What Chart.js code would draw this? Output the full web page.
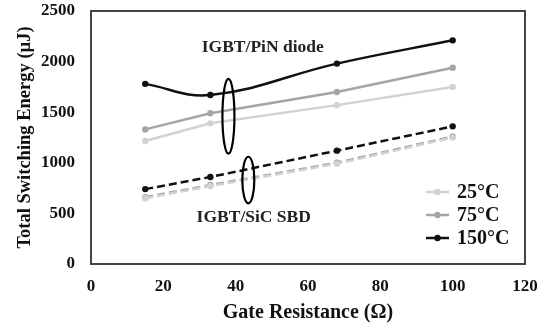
<!DOCTYPE html>
<html>
<head>
<meta charset="utf-8">
<script src="https://cdn.jsdelivr.net/npm/chart.js@4"></script>
<style>
  html, body { margin: 0; padding: 0; background: #fff; }
  #wrap { width: 545px; height: 324px; }
</style>
</head>
<body>
<div id="wrap"><canvas id="chart"></canvas></div>
<script>
const gateResistance = [15, 33, 68, 100];

// IGBT with PiN diode
const pin25 = [1215, 1390, 1570, 1750];
const pin75 = [1330, 1490, 1700, 1940];
const pin150 = [1780, 1670, 1980, 2210];

// IGBT with SiC SBD
const sbd25 = [650, 770, 990, 1250];
const sbd75 = [660, 780, 1000, 1260];
const sbd150 = [740, 860, 1120, 1360];

const xTicks = [0, 20, 40, 60, 80, 100, 120];
const yTicks = [0, 500, 1000, 1500, 2000, 2500];

const tempLabels = ['25°C', '75°C', '150°C'];
const tempColors = ['#d2d2d2', '#a5a5a5', '#111111'];

// group markers: ellipse centre (x in Ω, y in µJ) plus label
const groups = [
  { text: 'IGBT/PiN diode', cx: 38, cy: 1460, ry: 370, label: [47.5, 2140] },
  { text: 'IGBT/SiC SBD', cx: 43.5, cy: 830, ry: 230, label: [45, 455] }
];

const serif = '"Liberation Serif", "Times New Roman", serif';

function pts(values) {
  return values.map((v, i) => ({ x: gateResistance[i], y: v }));
}

function series(label, values, color, dashed, tension) {
  return {
    label,
    data: pts(values),
    borderColor: color,
    backgroundColor: color,
    borderWidth: 2.5,
    borderDash: dashed ? [8, 4] : [],
    pointRadius: 3.2,
    pointHoverRadius: 3.2,
    pointBorderWidth: 0,
    tension: tension || 0
  };
}

const datasets = [
  series('25°C', pin25, tempColors[0], false),
  series('75°C', pin75, tempColors[1], false),
  series('150°C', pin150, tempColors[2], false, 0.4),
  series('25°C SBD', sbd25, tempColors[0], true),
  series('75°C SBD', sbd75, tempColors[1], true),
  series('150°C SBD', sbd150, tempColors[2], true)
];

const overlay = {
  id: 'overlay',
  afterDatasetsDraw(chart) {
    const { ctx, chartArea: a, scales: { x, y } } = chart;
    ctx.save();
    // plot frame
    ctx.strokeStyle = '#444';
    ctx.lineWidth = 2;
    ctx.strokeRect(a.left, a.top, a.right - a.left, a.bottom - a.top);

    // group ellipses and labels
    groups.forEach(g => {
      const cx = x.getPixelForValue(g.cx);
      const cy = y.getPixelForValue(g.cy);
      const ry = Math.abs(y.getPixelForValue(g.cy + g.ry) - cy);
      ctx.beginPath();
      ctx.ellipse(cx, cy, 6, ry, 0, 0, Math.PI * 2);
      ctx.strokeStyle = '#000';
      ctx.lineWidth = 2.2;
      ctx.stroke();
      ctx.fillStyle = '#222';
      ctx.font = 'bold 17.5px ' + serif;
      ctx.textAlign = 'center';
      ctx.textBaseline = 'middle';
      ctx.fillText(g.text, x.getPixelForValue(g.label[0]), y.getPixelForValue(g.label[1]));
    });

    // legend, lower right inside the plot
    const lx = a.right - 99;
    let ly = a.bottom - 72;
    tempLabels.forEach((t, i) => {
      ctx.strokeStyle = tempColors[i];
      ctx.fillStyle = tempColors[i];
      ctx.lineWidth = 2.5;
      ctx.beginPath();
      ctx.moveTo(lx, ly);
      ctx.lineTo(lx + 23, ly);
      ctx.stroke();
      ctx.beginPath();
      ctx.arc(lx + 11.5, ly, 3.2, 0, Math.PI * 2);
      ctx.fill();
      ctx.fillStyle = '#111';
      ctx.font = 'bold 20px ' + serif;
      ctx.textAlign = 'left';
      ctx.textBaseline = 'middle';
      ctx.fillText(t, lx + 31, ly + 1);
      ly += 23;
    });
    ctx.restore();
  }
};

new Chart(document.getElementById('chart'), {
  type: 'line',
  data: { datasets },
  plugins: [overlay],
  options: {
    responsive: true,
    maintainAspectRatio: false,
    animation: false,
    layout: { padding: { top: 11, right: 20, left: 10, bottom: 0 } },
    plugins: {
      legend: { display: false },
      tooltip: { enabled: false }
    },
    scales: {
      x: {
        type: 'linear',
        min: 0,
        max: 120,
        afterBuildTicks: s => { s.ticks = xTicks.map(v => ({ value: v })); },
        afterFit: s => { s.height = 60; s.paddingLeft = 0; s.paddingRight = 0; },
        grid: { display: false, drawTicks: false },
        border: { display: false },
        ticks: {
          color: '#111',
          padding: 12,
          font: { family: serif, size: 17, weight: 'bold' }
        },
        title: {
          display: true,
          text: 'Gate Resistance (Ω)',
          color: '#111',
          padding: { top: 1, bottom: -1 },
          font: { family: serif, size: 20, weight: 'bold' }
        }
      },
      y: {
        min: 0,
        max: 2500,
        afterBuildTicks: s => { s.ticks = yTicks.map(v => ({ value: v })); },
        afterFit: s => { s.width = 81; s.paddingTop = 0; s.paddingBottom = 0; },
        grid: { display: false, drawTicks: false },
        border: { display: false },
        ticks: {
          color: '#111',
          padding: 16,
          callback: v => String(v),
          font: { family: serif, size: 17, weight: 'bold' }
        },
        title: {
          display: true,
          text: 'Total Switching Energy (µJ)',
          color: '#111',
          padding: { bottom: 2 },
          font: { family: serif, size: 18.5, weight: 'bold' }
        }
      }
    }
  }
});
</script>
</body>
</html>
